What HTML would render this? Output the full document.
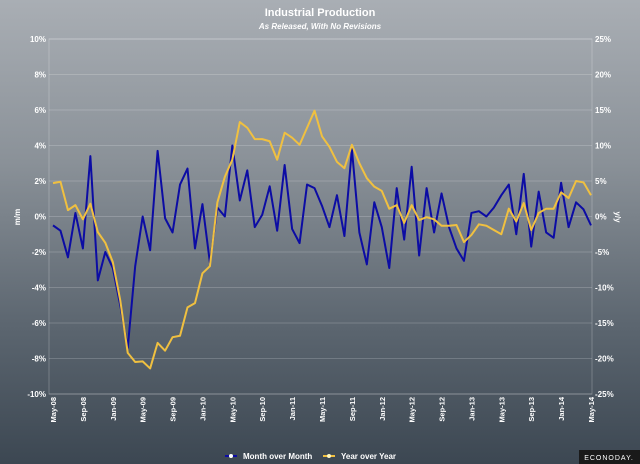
<!DOCTYPE html>
<html><head><meta charset="utf-8"><style>
html,body{margin:0;padding:0}
body{width:640px;height:464px;overflow:hidden;background:linear-gradient(#a9aeb4 0%,#8a9198 35%,#5c6670 70%,#3c4752 100%);font-family:"Liberation Sans",sans-serif}
svg{display:block}
</style></head><body>
<svg width="640" height="464" id="chart">
<text x="320" y="16" text-anchor="middle" font-size="11" font-weight="bold" fill="#fff">Industrial Production</text>
<text x="320" y="29" text-anchor="middle" font-size="8" font-style="italic" font-weight="bold" fill="#fff">As Released, With No Revisions</text>
<g id="grid"></g><g id="axes"></g><g id="series"></g>
<text transform="translate(20,217) rotate(-90)" text-anchor="middle" font-size="8" font-weight="bold" fill="#fff">m/m</text>
<text transform="translate(615,217) rotate(90)" text-anchor="middle" font-size="8" font-weight="bold" fill="#fff">y/y</text>
<g>
<g><line x1="225" y1="456" x2="237" y2="456" stroke="#0c0ca4" stroke-width="2"/><circle cx="231" cy="456" r="2" fill="#fff"/><text x="243" y="459" font-size="8" font-weight="bold" fill="#fff">Month over Month</text></g>
<g><line x1="323" y1="456" x2="335" y2="456" stroke="#f0c040" stroke-width="2"/><circle cx="329" cy="456" r="2" fill="#fff8c0"/><text x="341" y="459" font-size="8" font-weight="bold" fill="#fff">Year over Year</text></g>
</g>
<g><rect x="579" y="450" width="61" height="14" fill="#1a1a1a"/><text x="609" y="460" text-anchor="middle" font-size="7" fill="#fff" letter-spacing="1">ECONODAY.</text></g>
</svg>
<script>
const momValues=[-0.5,-0.8,-2.3,0.2,-1.8,3.4,-3.6,-2.0,-2.9,-5.0,-7.4,-2.8,0.0,-1.9,3.7,-0.1,-0.9,1.8,2.7,-1.8,0.7,-2.6,0.5,0.0,4.0,0.9,2.6,-0.6,0.1,1.7,-0.8,2.9,-0.7,-1.5,1.8,1.6,0.6,-0.6,1.2,-1.1,3.8,-0.9,-2.7,0.8,-0.6,-2.9,1.6,-1.3,2.8,-2.2,1.6,-0.9,1.3,-0.6,-1.8,-2.5,0.2,0.3,0.0,0.5,1.2,1.8,-1.0,2.4,-1.7,1.4,-0.9,-1.2,1.9,-0.6,0.8,0.4,-0.5];
const yoyValues=[4.7,4.9,0.9,1.6,-0.4,1.8,-2.2,-3.7,-6.4,-11.8,-19.2,-20.5,-20.4,-21.4,-17.8,-18.9,-17.0,-16.8,-12.8,-12.2,-8.0,-7.0,2.0,5.6,8.0,13.3,12.5,10.9,10.9,10.6,8.0,11.8,11.1,10.1,12.5,14.9,11.3,9.8,7.7,6.8,10.1,7.5,5.4,4.2,3.6,1.1,1.6,-0.9,1.6,-0.5,-0.1,-0.4,-1.3,-1.3,-1.2,-3.6,-2.6,-1.1,-1.3,-1.9,-2.5,1.1,-0.7,1.9,-1.9,0.5,1.1,1.1,3.4,2.6,5.0,4.8,3.0];
const xTickLabels=["May-08","Sep-08","Jan-09","May-09","Sep-09","Jan-10","May-10","Sep-10","Jan-11","May-11","Sep-11","Jan-12","May-12","Sep-12","Jan-13","May-13","Sep-13","Jan-14","May-14"];
const leftTicks=[10,8,6,4,2,0,-2,-4,-6,-8,-10];
const rightTicks=[25,20,15,10,5,0,-5,-10,-15,-20,-25];
const NS="http://www.w3.org/2000/svg";
const L=49,R=592,T=39,B=394;
const x=i=>53+i*(591-53)/(momValues.length-1);
const yL=v=>T+(10-v)*(B-T)/20;
const yR=v=>T+(25-v)*(B-T)/50;
function mk(tag,parent,attrs){const e=document.createElementNS(NS,tag);for(const k in attrs)e.setAttribute(k,attrs[k]);parent.appendChild(e);return e;}
const grid=document.getElementById('grid'),axes=document.getElementById('axes'),ser=document.getElementById('series');
leftTicks.forEach(v=>{
 const g=mk('line',grid,{x1:L,x2:R,y1:yL(v),y2:yL(v),stroke:'rgba(255,255,255,0.18)','stroke-width':1});
 
 
 const t=mk('text',axes,{x:L-3,y:yL(v)+3,'text-anchor':'end','font-size':8,'font-weight':'bold',fill:'#fff'});
 t.textContent=v+'%';
 
 
});
rightTicks.forEach(v=>{
 const t=mk('text',axes,{x:R+3,y:yR(v)+3,'font-size':8,'font-weight':'bold',fill:'#fff'});
 t.textContent=v+'%';
 
 
});
const frame=mk('rect',grid,{x:L,y:T,width:R-L,height:B-T,fill:'none',stroke:'rgba(255,255,255,0.22)'});


xTickLabels.forEach((s,k)=>{
 const xx=x(k*4)+3;
 const t=mk('text',axes,{transform:`translate(${xx},${B+3}) rotate(-90)`,'text-anchor':'end','font-size':7.5,'font-weight':'bold',fill:'#fff'});
 t.textContent=s;
 
 
});
const pm=mk('polyline',ser,{points:momValues.map((v,i)=>x(i)+','+yL(v)).join(' '),fill:'none',stroke:'#0c0ca4','stroke-width':2,'stroke-linejoin':'round'});


const py=mk('polyline',ser,{points:yoyValues.map((v,i)=>x(i)+','+yR(v)).join(' '),fill:'none',stroke:'#f0c040','stroke-width':2,'stroke-linejoin':'round'});


</script>
</body></html>
